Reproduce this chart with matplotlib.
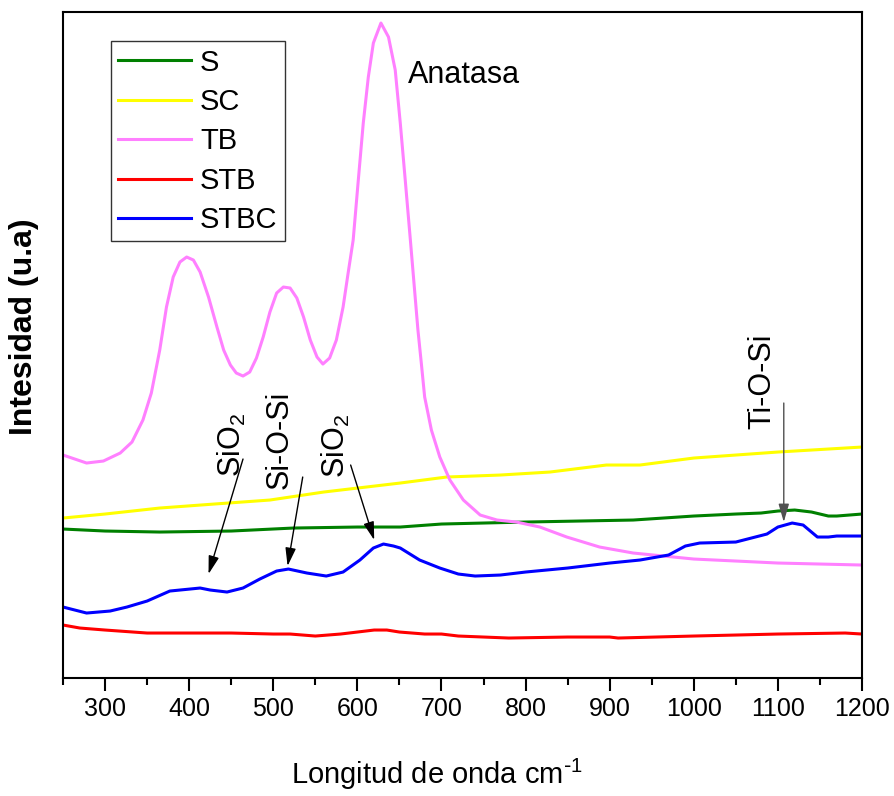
import matplotlib.pyplot as plt
from matplotlib.ticker import MultipleLocator

plt.rcParams['font.family'] = ['Liberation Sans', 'DejaVu Sans']
plt.rcParams['mathtext.default'] = 'regular'

# Spectra (arbitrary intensity units)
x_s = [250, 300, 365, 450, 524, 600, 651, 700, 800, 928, 1000, 1050, 1080, 1100,
       1120, 1140, 1160, 1170, 1200]
y_s = [149, 147, 146, 147, 150, 151, 151, 154, 156, 158, 162, 164, 165, 167,
       168, 166, 162, 162, 164]

x_sc = [250, 300, 365, 430, 496, 560, 651, 706, 770, 829, 896, 936, 1000, 1100, 1200]
y_sc = [160, 164, 170, 174, 178, 186, 195, 201, 203, 206, 213, 213, 220, 226, 231]

x_tb = [250, 278, 298, 318, 332, 345, 355, 365, 373, 381, 389, 397, 405, 413, 423,
        433, 441, 449, 456, 464, 472, 480, 488, 496, 504, 512, 520, 528, 536, 544,
        552, 559, 567, 575, 583, 589, 595, 601, 607, 613, 619, 628, 637, 645, 651,
        657, 663, 672, 676, 680, 688, 698, 710, 726, 746, 766, 789, 817, 849, 888,
        928, 1000, 1100, 1200]
y_tb = [223, 215, 217, 225, 236, 258, 285, 328, 371, 401, 416, 421, 418, 406, 381,
        351, 328, 313, 305, 302, 306, 320, 341, 366, 385, 391, 390, 380, 361, 338,
        321, 314, 320, 338, 371, 405, 438, 497, 555, 601, 635, 655, 641, 608, 555,
        497, 438, 348, 315, 281, 248, 221, 198, 178, 163, 158, 156, 151, 141, 131,
        125, 119, 115, 113]

x_stb = [250, 270, 300, 350, 400, 450, 500, 520, 550, 580, 600, 620, 635, 650, 680, 700,
         720, 780, 850, 900, 910, 1000, 1100, 1180, 1200]
y_stb = [53, 50, 48, 45, 45, 45, 44, 44, 42, 44, 46, 48, 48, 46, 44, 44,
         42, 40, 41, 41, 40, 42, 44, 45, 44]

x_stbc = [250, 278, 306, 326, 350, 377, 413, 425, 445, 464, 484, 504, 518, 540, 563,
          583, 603, 619, 631, 643, 651, 674, 698, 720, 740, 770, 800, 850, 900, 936,
          970, 990, 1007, 1050, 1087, 1100, 1117, 1130, 1147, 1160, 1170, 1200]
y_stbc = [71, 65, 67, 71, 77, 87, 90, 88, 86, 90, 99, 107, 109, 105, 102,
          106, 118, 130, 134, 132, 130, 118, 110, 104, 102, 103, 106, 110, 115, 118,
          123, 132, 135, 136, 144, 151, 155, 153, 141, 141, 142, 142]

series = [
    ('S', x_s, y_s, '#008000'),
    ('SC', x_sc, y_sc, '#FFFF00'),
    ('TB', x_tb, y_tb, '#FF80FF'),
    ('STB', x_stb, y_stb, '#FF0000'),
    ('STBC', x_stbc, y_stbc, '#0000FF'),
]

fig = plt.figure(figsize=(8.94, 7.96), dpi=100)
ax = fig.add_axes([0.0705, 0.1482, 0.8937, 0.8367])

for name, xs, ys, col in series:
    ax.plot(xs, ys, color=col, lw=2.2, label=name)

ax.set_xlim(250, 1200)
ax.set_ylim(0, 666)
ax.xaxis.set_major_locator(MultipleLocator(100))
ax.xaxis.set_minor_locator(MultipleLocator(50))
ax.set_yticks([])
ax.tick_params(axis='x', which='major', direction='out', length=9, width=1.5,
               labelsize=18, pad=5)
ax.tick_params(axis='x', which='minor', direction='out', length=5, width=1.5)
for sp in ax.spines.values():
    sp.set_linewidth(1.5)

ax.set_xlabel(r'Longitud de onda cm$^{\text{-}1}$', fontsize=21, va='top')
ax.xaxis.set_label_coords(0.468, -0.118)
ax.set_ylabel('Intesidad (u.a)', fontsize=23, fontweight='bold')
ax.yaxis.set_label_coords(-0.03, 0.527)

leg = ax.legend(loc='upper left', bbox_to_anchor=(0.060, 0.956), fontsize=21,
                frameon=True, fancybox=False, edgecolor='black', handlelength=2.5,
                labelspacing=0.39, borderpad=0.25, handletextpad=0.3, borderaxespad=0)
leg.get_frame().set_linewidth(1.0)

# Band labels
ax.text(660, 595, 'Anatasa', fontsize=22, va='baseline', ha='left')

head = '-|>,head_length=0.55,head_width=0.16'
arrow = dict(arrowstyle=head, color='black', lw=1.0, mutation_scale=20, shrinkA=0, shrinkB=0)
ax.annotate('', xy=(423, 104), xytext=(464, 219), arrowprops=arrow)
ax.text(451, 233, 'SiO$_2$', fontsize=22, rotation=90, ha='center', va='center')

ax.annotate('', xy=(517, 112), xytext=(535, 201), arrowprops=arrow)
ax.text(507, 238, 'Si-O-Si', fontsize=22, rotation=90, ha='center', va='center')

ax.annotate('', xy=(620, 138), xytext=(592, 213), arrowprops=arrow)
ax.text(575, 232, 'SiO$_2$', fontsize=22, rotation=90, ha='center', va='center')

ax.annotate('', xy=(1107, 156), xytext=(1107, 275),
            arrowprops=dict(arrowstyle=head, color='#505050', lw=1.0, mutation_scale=20,
                            shrinkA=0, shrinkB=0))
ax.text(1082, 297, 'Ti-O-Si', fontsize=22, rotation=90, ha='center', va='center')

fig.savefig('out.png', dpi=100)
